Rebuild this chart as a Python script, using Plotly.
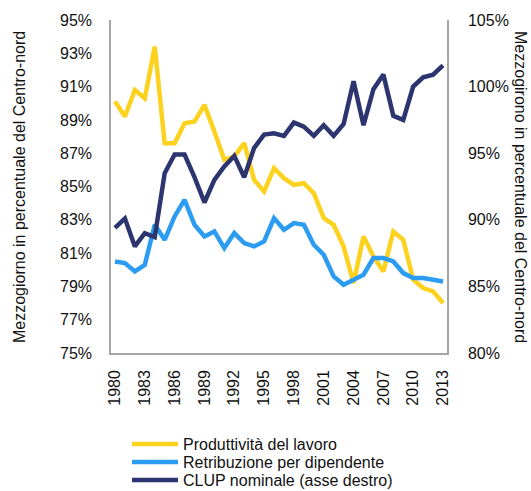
import plotly.graph_objects as go

years = list(range(1980, 2014))

# Produttività del lavoro (Mezzogiorno / Centro-nord, %)
produttivita = [90.1, 89.2, 90.8, 90.3, 93.4, 87.6, 87.6, 88.8, 88.9, 89.9,
                88.3, 86.6, 86.8, 87.6, 85.4, 84.7, 86.1, 85.5, 85.1, 85.2,
                84.6, 83.1, 82.7, 81.4, 79.2, 82.0, 80.8, 79.9, 82.3, 81.8,
                79.4, 78.9, 78.7, 78.0]

# Retribuzione per dipendente (%)
retribuzione = [80.5, 80.4, 79.9, 80.3, 82.7, 81.8, 83.2, 84.2, 82.7, 82.0,
                82.3, 81.3, 82.2, 81.6, 81.4, 81.7, 83.1, 82.4, 82.8, 82.7,
                81.5, 80.9, 79.6, 79.1, 79.4, 79.7, 80.7, 80.7, 80.5, 79.8,
                79.5, 79.5, 79.4, 79.3]

# CLUP nominale (%, asse destro)
clup = [89.4, 90.1, 88.0, 89.0, 88.7, 93.5, 94.9, 94.9, 93.2, 91.3,
        93.0, 94.0, 94.8, 93.2, 95.4, 96.4, 96.5, 96.3, 97.3, 97.0,
        96.3, 97.1, 96.3, 97.2, 100.4, 97.1, 99.8, 100.9, 97.8, 97.5,
        100.0, 100.7, 100.9, 101.6]

series_names = ["Produttività del lavoro",
                "Retribuzione per dipendente",
                "CLUP nominale (asse destro)"]

left_ticks = [75, 77, 79, 81, 83, 85, 87, 89, 91, 93, 95]
right_ticks = [80, 85, 90, 95, 100, 105]
x_ticks = list(range(1980, 2014, 3))

title_left = "Mezzogiorno in percentuale del Centro-nord"
title_right = "Mezzogirono in percentuale del Centro-nord"

YELLOW = "#FDD21F"
BLUE = "#2C9CF2"
NAVY = "#2D3570"
colors = [YELLOW, BLUE, NAVY]
FONT = "Liberation Sans, Arial, sans-serif"

W, H = 531, 491
ML, MR, MT, MB = 111, 84, 20, 0
PLOT_BOTTOM = 353          # pixel row of the x axis line
plot_w = W - ML - MR
plot_h = H - MT - MB
y_domain_lo = (H - PLOT_BOTTOM) / plot_h


def px_x(x_px):
    return (x_px - ML) / plot_w


def px_y(y_px):
    return 1 - (y_px - MT) / plot_h


fig = go.Figure()
fig.add_trace(go.Scatter(x=years, y=produttivita, mode="lines",
                         name=series_names[0],
                         line=dict(color=colors[0], width=4.5)))
fig.add_trace(go.Scatter(x=years, y=retribuzione, mode="lines",
                         name=series_names[1],
                         line=dict(color=colors[1], width=4.5)))
fig.add_trace(go.Scatter(x=years, y=clup, mode="lines", yaxis="y2",
                         name=series_names[2],
                         line=dict(color=colors[2], width=4.5)))

fig.update_layout(
    width=W, height=H,
    margin=dict(l=ML, r=MR, t=MT, b=MB, autoexpand=False),
    paper_bgcolor="white", plot_bgcolor="white",
    font=dict(family=FONT, size=16, color="#111111"),
    showlegend=False,
    xaxis=dict(range=[1979.6, 2013.4], tickmode="array", tickvals=x_ticks,
               ticktext=[str(v) for v in x_ticks], tickangle=-90,
               anchor="y", showgrid=False, zeroline=False, showline=True,
               linecolor="#A6A6A6", linewidth=1.5, ticks="",
               ticklabelstandoff=9, tickfont=dict(size=16), automargin=False),
    yaxis=dict(range=[75, 95], domain=[y_domain_lo, 1],
               tickmode="array", tickvals=left_ticks,
               ticktext=[f"{v}%" for v in left_ticks],
               showgrid=False, zeroline=False, showline=True,
               linecolor="#A6A6A6", linewidth=1.5, ticks="",
               ticklabelstandoff=14, tickfont=dict(size=16), automargin=False),
    yaxis2=dict(range=[80, 105], domain=[y_domain_lo, 1],
                overlaying="y", side="right",
                tickmode="array", tickvals=right_ticks,
                ticktext=[f"{v}%" for v in right_ticks],
                showgrid=False, zeroline=False, showline=True,
                linecolor="#A6A6A6", linewidth=1.5, ticks="",
                ticklabelstandoff=16, tickfont=dict(size=16), automargin=False),
)

# rotated axis titles, placed in pixel terms
for text, angle, x_px, y_px in [(title_left, -90, 20, 187),
                                (title_right, 90, 520, 187)]:
    fig.add_annotation(text=text, textangle=angle,
                       x=px_x(x_px), y=px_y(y_px),
                       xref="paper", yref="paper", showarrow=False,
                       xanchor="center", yanchor="middle",
                       font=dict(size=16))

# compact key below the chart: a short line swatch plus the series name
key_rows = [444, 462, 480]
for name, color, row in zip(series_names, colors, key_rows):
    fig.add_shape(type="line", xref="paper", yref="paper",
                  x0=px_x(132), x1=px_x(178), y0=px_y(row), y1=px_y(row),
                  line=dict(color=color, width=4.5))
    fig.add_annotation(text=name, x=px_x(181), y=px_y(row),
                       xref="paper", yref="paper", showarrow=False,
                       xanchor="left", yanchor="middle",
                       font=dict(size=16, color="#111111"))

fig.write_html("out.html")
